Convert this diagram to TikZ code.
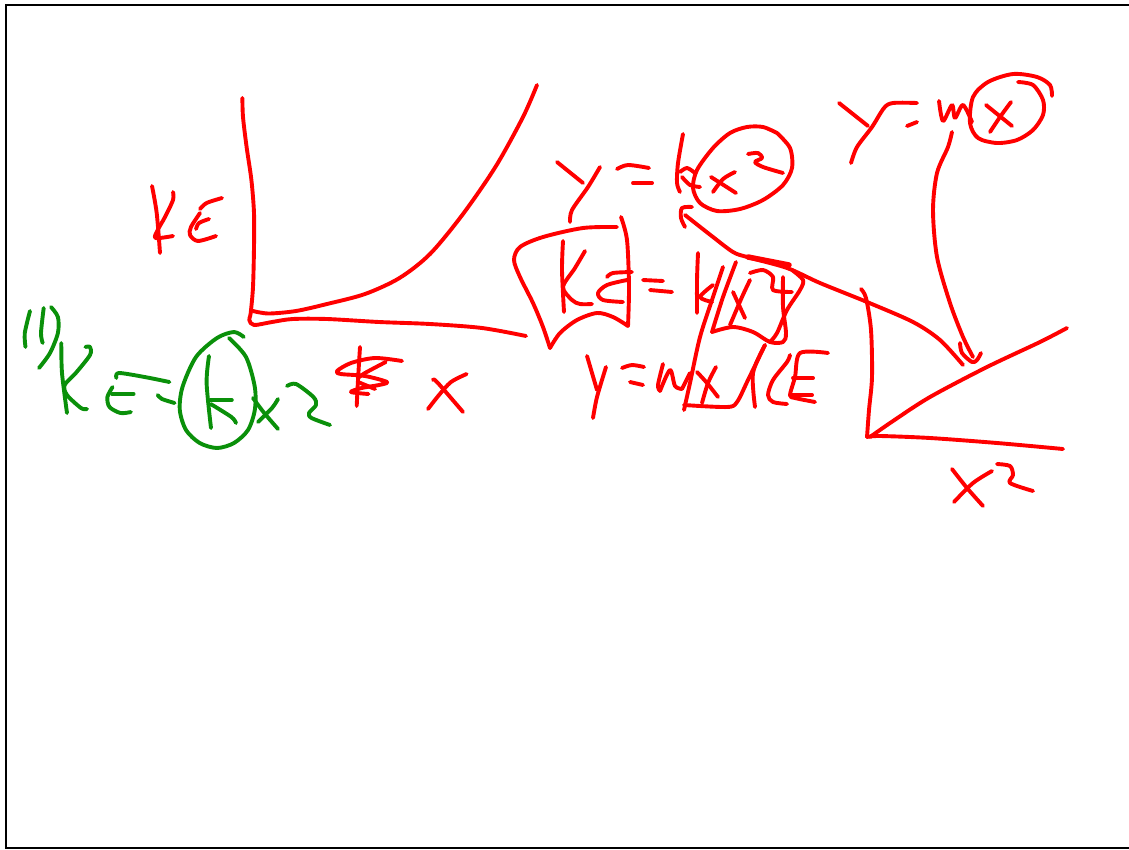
\documentclass[tikz,border=0pt]{standalone}
\usepackage{xcolor}
\usepackage{tikz}
\definecolor{inkred}{HTML}{FF0000}
\definecolor{inkgreen}{HTML}{0A900A}

\begin{document}
\begin{tikzpicture}[
  x=1pt,y=-1pt,
  ink/.style={inkred,line width=3.9pt,line cap=round,line join=round,smooth,tension=.5},
  inkg/.style={ink,draw=inkgreen},
  frame/.style={black,line width=2pt},
]
\useasboundingbox (0,0) rectangle (1129,849);
\draw[frame] (1129,4.5) -- (5.5,4.5) -- (5.5,848) -- (1129,848);

% left graph
\draw[ink] plot coordinates {(242.4,98) (243,117) (246.6,147) (251.4,180) (254,213) (254,247) (253,287) (250.7,313) (249.3,320) (254,325) (272,322) (292.7,319) (327,319) (379,322) (430,324) (482,328) (526,336)};
\draw[ink] plot coordinates {(253,311) (268.6,313.5) (296,311) (327,304) (365,294) (399.5,278) (430,254) (463,214) (496,166) (523,117) (537,85)};
% KE
\draw[ink] plot coordinates {(152,186) (156.7,213) (160,253)};
\draw[ink] plot coordinates {(173,192) (173,200) (165,217) (157.7,230) (155.6,238) (173,236)};
\draw[ink] plot coordinates {(222,198) (206.6,203) (200,209)};
\draw[ink] plot coordinates {(200,213) (191,227) (190,235) (198,241) (216,236)};
\draw[ink] plot coordinates {(196,229) (199,223) (209,219)};
% scribbled sign and x
\draw[ink] plot coordinates {(360,347) (358,380) (356.7,406)};
\draw[ink] plot coordinates {(402,361) (375,358) (351,363) (337,371) (341,374) (365,376) (387,382) (379,385) (361.6,388) (351,392) (368.5,394)};
\draw[ink] plot coordinates {(385.7,362) (365,373) (358,378)};
\draw[ink] plot coordinates {(358,382) (375,389)};
\draw[ink] plot coordinates {(433,380) (437,382) (463,412)};
\draw[ink] plot coordinates {(466.6,374) (451,382) (439,395) (428,409)};

% green formula
\draw[inkg] plot coordinates {(30,311) (24.8,333) (25.5,347)};
\draw[inkg] plot coordinates {(43.7,308) (41,333) (42.7,343)};
\draw[inkg] plot coordinates {(51,307) (57.9,317) (57.9,333) (50,353) (39,368)};
\draw[inkg] plot coordinates {(61.3,343) (62,373) (67,413)};
\draw[inkg] plot coordinates {(85.4,347) (90,347) (90,355) (75.8,373) (64.7,385) (67,395) (81,408) (87,409)};
\draw[inkg] plot coordinates {(116.4,378) (118.8,373) (144.6,377) (169.4,382)};
\draw[inkg] plot coordinates {(112.6,387) (107.4,397) (109.5,407) (120.5,413) (130.9,412)};
\draw[inkg] plot coordinates {(112,394) (133.6,394)};
\draw[inkg] plot coordinates {(157.7,395) (162,399) (174.6,403)};
\draw[inkg] plot coordinates {(243.8,337) (234,332) (217,338) (196,357) (182.5,387) (179.8,410) (186,430) (199.7,443) (217,448) (234,443) (248,430) (254.8,410) (254.8,387) (246,357) (229,338)};
\draw[inkg] plot coordinates {(209,356) (206.6,383) (211,428)};
\draw[inkg] plot coordinates {(210.7,400) (231.8,400)};
\draw[inkg] plot coordinates {(210.7,404) (231.4,417) (236,423)};
\draw[inkg] plot coordinates {(253,398) (263.4,412) (278,429)};
\draw[inkg] plot coordinates {(278,399) (272,408) (258,422)};
\draw[inkg] plot coordinates {(287,386) (296,384) (313.4,397) (316,405) (309,413) (311.6,418) (330,425)};

% y = k x^2
\draw[ink] plot coordinates {(557,162) (583,183)};
\draw[ink] plot coordinates {(600,167) (588,187) (572,210) (570,222)};
\draw[ink] plot coordinates {(617,169) (628,165) (649,168)};
\draw[ink] plot coordinates {(633,183) (652,183)};
\draw[ink] plot coordinates {(683,134) (678,163) (677,183) (680,192)};
\draw[ink] plot coordinates {(680,172) (687,168) (695,173)};
\draw[ink] plot coordinates {(682,177) (690,185) (700,187)};
\draw[ink] plot coordinates {(777,133) (763,127) (747,127) (730,133) (713,148) (697,170) (693,188) (700,203) (717,211) (740,209) (763,200) (783,185) (792,168) (790,148) (777,133)};
\draw[ink] plot coordinates {(735,172) (723,179) (713,192)};
\draw[ink] plot coordinates {(711,177) (736,193)};
\draw[ink] plot coordinates {(748,154) (758,153) (762,158) (755,162) (763,167) (783,173)};

% arrow back to y = k x^2
\draw[ink] plot coordinates {(963,365) (940,340) (913,322) (867,302) (820,283) (787,268) (747,257) (733,252) (713,237) (685,215)};
\draw[ink] plot coordinates {(692,207) (682,208) (681,218) (685,227)};
\draw[ink,line width=5.5pt] plot coordinates {(748,257) (789,265)};

% boxed KE = k x^2
\draw[ink] plot coordinates {(617,227) (583,228) (543,237) (520,247) (514,260) (520,277) (533,303) (543,327) (550,348)};
\draw[ink] plot coordinates {(550,348) (560,333) (577,320) (597,313) (613,317) (628,326)};
\draw[ink] plot coordinates {(628,326) (629,287) (627,240) (621,217)};
\draw[ink] plot coordinates {(563,241) (562,270) (564,312)};
\draw[ink] plot coordinates {(585,251) (575,268) (563,287) (572,300) (580,304) (592,304)};
\draw[ink] plot coordinates {(632,272) (613,273) (607,277)};
\draw[ink] plot coordinates {(627,280) (607,285) (598,293) (603,300) (623,302)};
\draw[ink] plot coordinates {(643,280) (663,281)};
\draw[ink] plot coordinates {(650,290) (672,292)};
\draw[ink] plot coordinates {(698,253) (697,280) (697,313)};
\draw[ink] plot coordinates {(713,285) (700,297) (712,302)};
% crossing out
\draw[ink] plot coordinates {(736,262) (723,297) (712,332)};
\draw[ink] plot coordinates {(712,332) (733,327) (753,332) (770,342) (783,342) (786,333) (783,307) (783,277)};
\draw[ink] plot coordinates {(792,270) (803,280) (800,290) (787,310) (777,333) (770,342)};
\draw[ink] plot coordinates {(723,267) (713,297) (700,337) (690,383) (684,410)};
\draw[ink] plot coordinates {(684,405) (727,407) (737,402) (748,380) (765,345)};
\draw[ink] plot coordinates {(765,345) (753,373) (755,407)};
\draw[ink] plot coordinates {(750,280) (742,297) (730,325)};
\draw[ink] plot coordinates {(733,292) (745,318)};
\draw[ink] plot coordinates {(750,273) (763,270) (773,277) (773,290) (792,292)};

% y = m x, KE
\draw[ink] plot coordinates {(587,356) (597,390)};
\draw[ink] plot coordinates {(606,367) (597,397) (593,418)};
\draw[ink] plot coordinates {(622,368) (632,365) (644,367)};
\draw[ink] plot coordinates {(630,382) (643,385)};
\draw[ink] plot coordinates {(663,364) (658,385) (660,391)};
\draw[ink] plot coordinates {(660,391) (670,370) (675,386) (682,389)};
\draw[ink] plot coordinates {(682,389) (690,373)};
\draw[ink] plot coordinates {(716,367) (708,383) (702,403)};
\draw[ink] plot coordinates {(697,372) (707,383) (718,397)};
\draw[ink] plot coordinates {(790,355) (787,362) (773,380) (768,395) (773,402) (787,404)};
\draw[ink] plot coordinates {(828,353) (800,353) (795,377) (790,395) (795,398) (815,402)};
\draw[ink] plot coordinates {(793,378) (813,378)};
\draw[ink] plot coordinates {(790,395) (812,395)};

% y = m x, top right
\draw[ink] plot coordinates {(839,103) (868,126)};
\draw[ink] plot coordinates {(917,103) (893,103) (884,108) (872,127) (857,147) (851,163)};
\draw[ink] plot coordinates {(907,126) (917,122)};
\draw[ink] plot coordinates {(939,101) (943,121) (952,105) (955,118) (963,105) (972,122)};
\draw[ink] plot coordinates {(1018,82) (1033,85) (1043,100) (1043,115) (1033,130) (1017,140) (997,143) (978,138) (970,123) (973,97) (988,82) (1013,74) (1037,77) (1050,85) (1052,96)};
\draw[ink] plot coordinates {(1011,102) (1000,117) (990,132)};
\draw[ink] plot coordinates {(986,105) (1012,126)};
% arrow to right graph
\draw[ink] plot coordinates {(952,132) (948,147) (937,173) (933,210) (937,257) (950,303) (963,337) (973,357)};
\draw[ink] plot coordinates {(960,343) (962,353) (972,362) (977,360) (981,353)};

% right graph
\draw[ink] plot coordinates {(861,289) (866,298) (871,330) (872,377) (869,410) (867,437)};
\draw[ink] plot coordinates {(867,437) (880,436) (930,438) (997,443) (1063,449)};
\draw[ink] plot coordinates {(870,437) (893,421) (930,397) (987,367) (1040,342) (1067,328)};
\draw[ink] plot coordinates {(952,469) (967,488) (983,506)};
\draw[ink] plot coordinates {(992,471) (973,483) (954,502)};
\draw[ink] plot coordinates {(997,464) (1010,466) (1013,475) (1010,483) (1033,491)};
\end{tikzpicture}
\end{document}
